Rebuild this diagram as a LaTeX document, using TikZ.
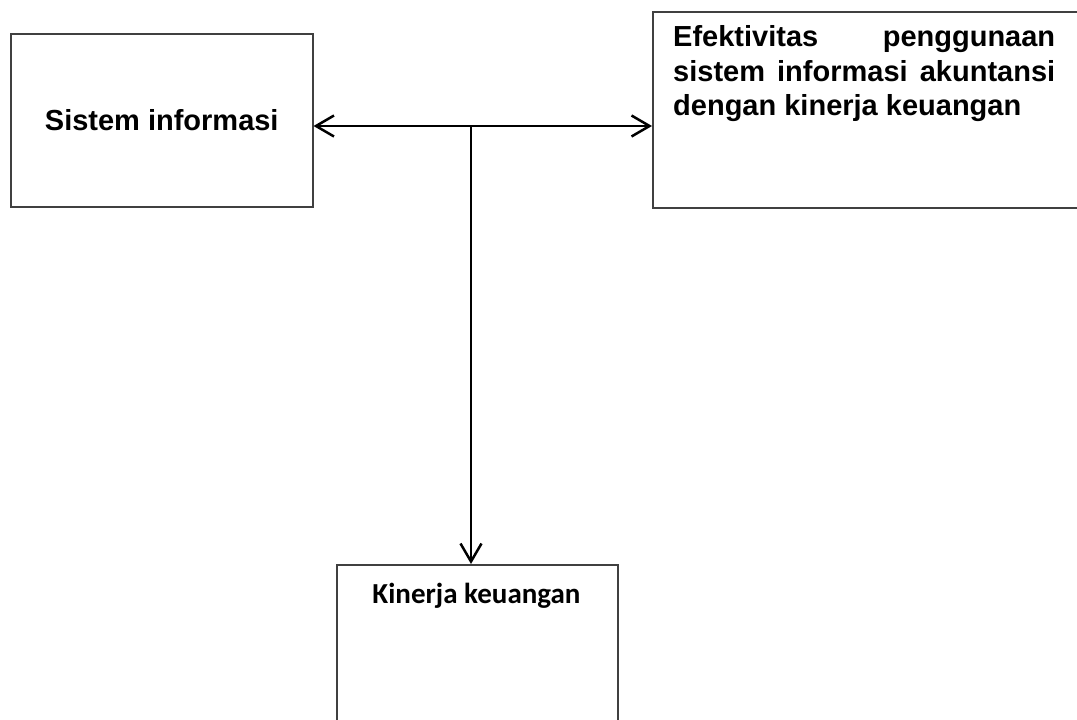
\documentclass[tikz,border=0pt]{standalone}
\usepackage{fontspec}
\setmainfont{Liberation Sans}
\newfontfamily\calfont{Carlito}
\usetikzlibrary{arrows.meta}
\begin{document}
\begin{tikzpicture}[x=1pt,y=-1pt,
  box/.style={draw=black!75, line width=1.5pt, inner sep=0pt, anchor=north west},
  conn/.style={draw=black, line width=2.5pt},
  barb/.tip={Straight Barb[length=18pt,width=21pt]},
  arialtext/.style={font=\bfseries\fontsize{29}{34.5}\selectfont}]
\useasboundingbox (0,0) rectangle (1077,720);
\clip (0,0) rectangle (1077,720);
\fill[white] (0,0) rectangle (1077,720);
\node[box, minimum width=302pt, minimum height=173pt, arialtext] (sis) at (10,33) {Sistem informasi};
\node[box, minimum width=460pt, minimum height=196pt] (eff) at (652,11) {};
\node[anchor=north west, inner sep=0pt, text width=382pt, align=justify, arialtext] (efftext) at (673,25.5)
  {Efektivitas penggunaan\linebreak sistem informasi akuntansi\linebreak dengan kinerja keuangan};
\node[box, minimum width=281pt, minimum height=170pt] (kin) at (336,564) {};
\node[anchor=base, inner sep=0pt, font=\calfont\bfseries\fontsize{29}{34}\selectfont] (kintext) at (476.5,603) {Kinerja keuangan};
\coordinate (j) at (471,126);
\draw[conn, barb-barb] (sis.east |- j) -- (eff.west |- j);
\draw[conn, -barb] (j) -- (j |- kin.north);
\end{tikzpicture}
\end{document}
